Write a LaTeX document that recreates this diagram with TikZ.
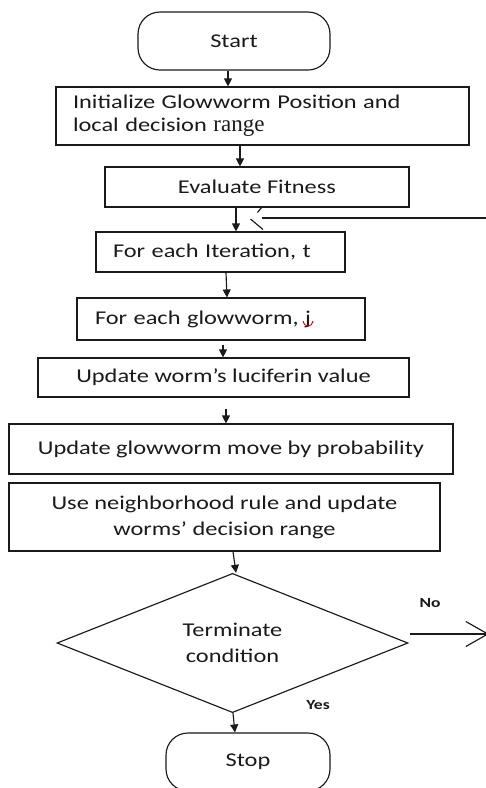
\documentclass[tikz,border=0pt]{standalone}
\usepackage{fontspec}
\setmainfont{Carlito}[FakeStretch=1.25]
\newfontfamily\timesfont{Liberation Serif}
\usetikzlibrary{arrows.meta,shapes.geometric}
\definecolor{ink}{HTML}{1A1A1A}
\tikzset{
  box/.style={draw=ink, line width=1.15pt, rectangle, inner sep=0pt, text=ink,
    font=\fontsize{19.5}{23}\selectfont},
  termbox/.style={box, rounded corners=22pt},
  decision/.style={box, diamond, align=center},
  arr/.style={draw=ink, line width=1.15pt, -{Triangle[length=8pt,width=8pt]}},
  openarr/.style={draw=ink, line width=1.15pt, -{Straight Barb[length=22pt,width=25pt]}},
  plain/.style={draw=ink, line width=1.15pt},
  lbl/.style={text=ink, inner sep=0pt, font=\fontsize{14}{16}\selectfont\bfseries},
}
\begin{document}
\begin{tikzpicture}[x=1pt, y=-1pt]
\clip (0,0) rectangle (486,788);
\fill[white] (0,0) rectangle (486,788);

% process steps
\node[termbox, minimum width=192pt, minimum height=58pt] (start) at (234,41) {Start};
\node[box, minimum width=413pt, minimum height=58pt, text width=379pt, inner xsep=17pt, align=left]
  (init) at (262.5,116) {Initialize Glowworm Position and\\local decision {\timesfont\fontsize{23}{23}\selectfont range}};
\node[box, minimum width=304pt, minimum height=40pt] (eval) at (257,187) {Evaluate Fitness};
\node[box, minimum width=249pt, minimum height=40pt, text width=215pt, inner xsep=17pt, align=left]
  (iter) at (220.5,252) {For each Iteration, t};
\node[box, minimum width=288pt, minimum height=42pt, text width=252pt, inner xsep=18pt, align=left]
  (glow) at (221,319) {For each glowworm, j};
\node[box, minimum width=371pt, minimum height=39pt] (luc) at (223.5,377.5) {Update worm’s luciferin value};
\node[box, minimum width=444pt, minimum height=50pt] (move) at (231,449) {Update glowworm move by probability};
\node[box, minimum width=431pt, minimum height=68pt, align=center, font=\fontsize{19.5}{26}\selectfont]
  (nbr) at (224.5,517) {Use neighborhood rule and update\\worms’ decision range};
\node[decision, minimum width=351pt, minimum height=114pt, font=\fontsize{19.5}{26}\selectfont]
  (cond) at (232.5,643) {Terminate\\condition};
\node[termbox, minimum width=164pt, minimum height=58pt] (stop) at (248,762) {Stop};

% spell-check mark under the loop index
\draw[red!85!black, line width=0.9pt] (303,321) .. controls (305,328) and (311,328) .. (313,321);

% main flow
\draw[arr] ([shift={(-6,0)}]start.south) -- ([shift={(-34.5,0)}]init.north);
\draw[arr] ([shift={(-22.5,0)}]init.south) -- ([shift={(-17,0)}]eval.north);
\draw[arr] ([shift={(-21,0)}]eval.south) -- ([shift={(15.5,0)}]iter.north);
\draw[arr] ([shift={(5.5,0)}]iter.south) -- ([shift={(6,0)}]glow.north);
\draw[arr] ([shift={(2,4)}]glow.south) -- ([shift={(-0.5,0)}]luc.north);
\draw[arr] ([shift={(2.5,11)}]luc.south) -- ([shift={(-5,0)}]move.north);
\draw[arr] ([shift={(8.5,0)}]nbr.south) -- ([shift={(3.5,0)}]cond.north);
\draw[arr] ([shift={(0.5,0)}]cond.south) -- ([shift={(-13,0)}]stop.north);

% loop back from the decision
\coordinate (noend) at (489,634);
\draw[openarr] ([shift={(1,-9)}]cond.east) -- (noend);
\coordinate (loopin) at (488,218);
\draw[plain] (loopin) -- (262,218);
\draw[plain] (257.5,212.5) -- (262,207);
\draw[plain] (250.5,219) -- (263,229.5);

% branch labels
\node[lbl] (no) at (430,603) {No};
\node[lbl] (yes) at (318,705) {Yes};
\end{tikzpicture}
\end{document}
